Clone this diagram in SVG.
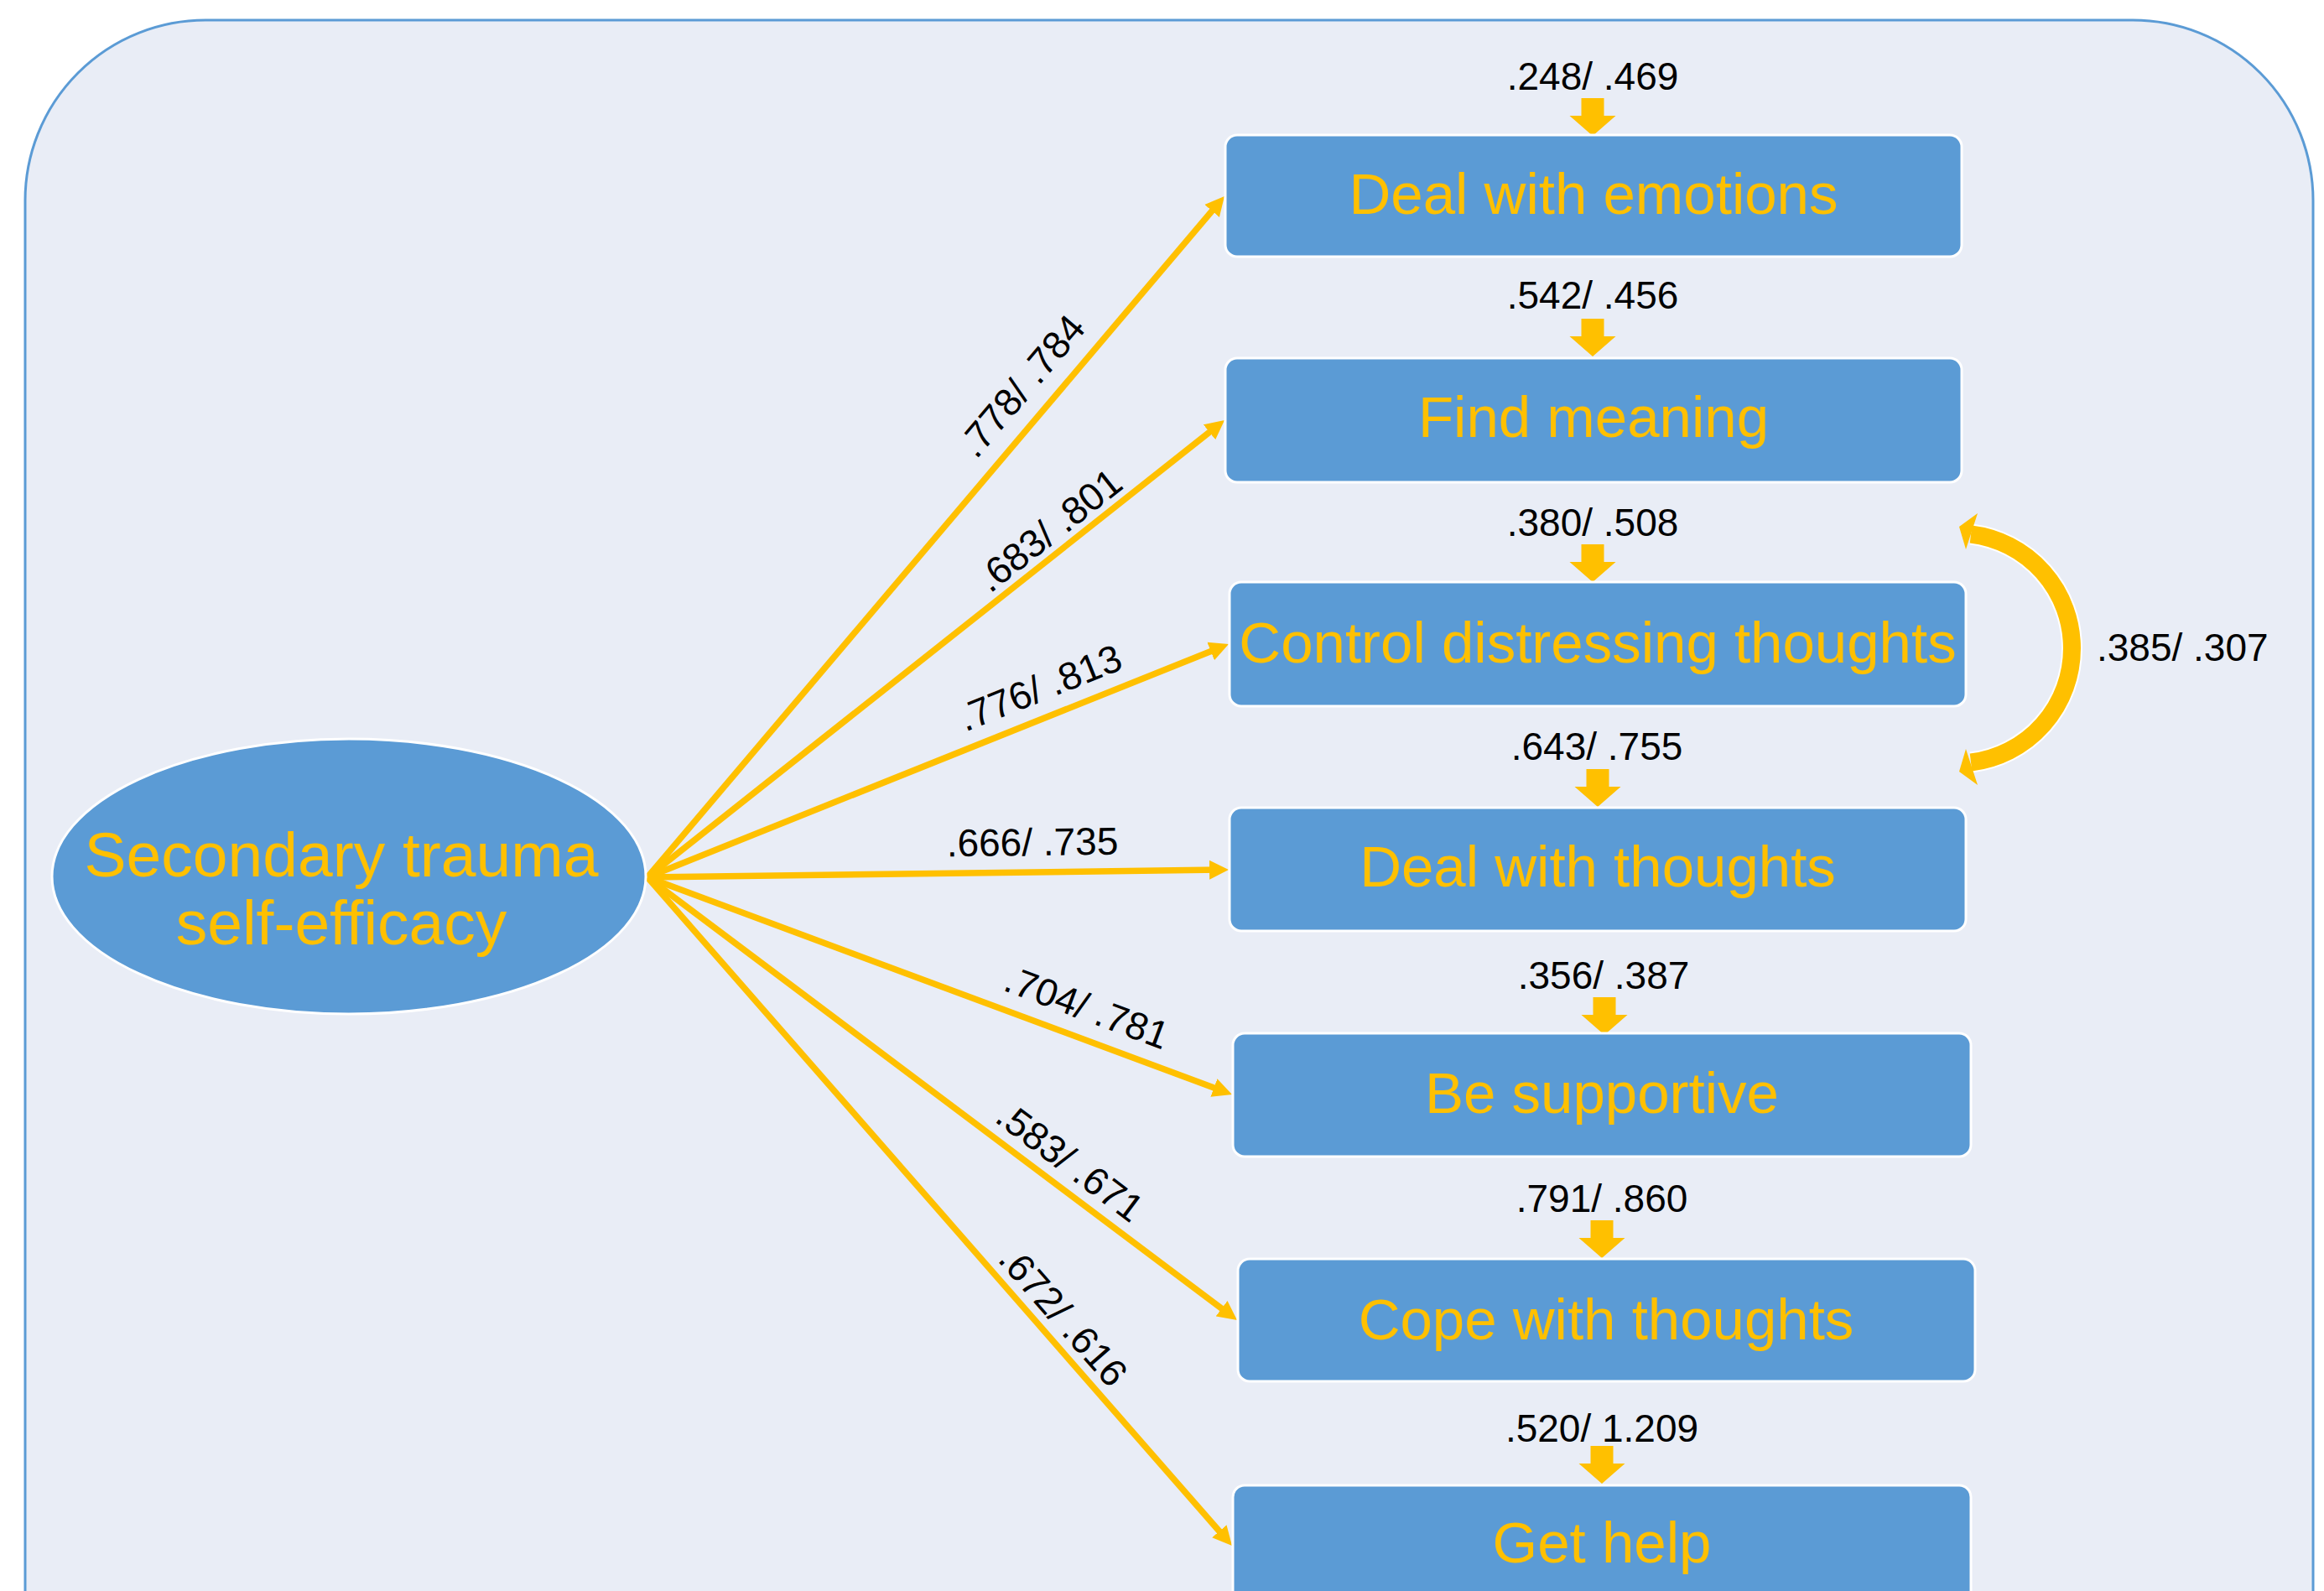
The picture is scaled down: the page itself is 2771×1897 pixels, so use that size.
<svg xmlns="http://www.w3.org/2000/svg" xmlns:xlink="http://www.w3.org/1999/xlink" width="2771" height="1897" viewBox="0 0 2771 1897">
<style>
.box{fill:#5B9BD5;stroke:#FFFFFF;stroke-width:3}
.nt{font-family:"Liberation Sans",Arial,sans-serif;font-size:69px;fill:#FFC000;text-anchor:middle}
.lb{font-family:"Liberation Sans",Arial,sans-serif;font-size:46px;fill:#000000;text-anchor:middle}
.fan{stroke:#FFC000;stroke-width:7.5;fill:none;marker-end:url(#ah)}
.dn{fill:#FFC000}
</style>
<defs>
<marker id="ah" markerUnits="userSpaceOnUse" markerWidth="24" markerHeight="24" refX="13" refY="12" orient="auto" viewBox="0 0 24 24">
<path d="M0,0.5 L23,12 L0,23.5 Z" fill="#FFC000"/>
</marker>
<path id="dnarrow" d="M-13.5,-45 H13.5 V-24 H27.5 L0,0 L-27.5,-24 H-13.5 Z"/>
</defs>
<rect x="0" y="0" width="2771" height="1897" fill="#FFFFFF"/>
<rect id="frame" x="30" y="24" width="2728" height="2100" rx="215" ry="215" fill="#E9EDF6" stroke="#5B9BD5" stroke-width="3"/>

<g id="connectors">
<line class="fan" x1="772" y1="1046" x2="1453.5" y2="241.6"/>
<line class="fan" x1="772" y1="1046" x2="1452.2" y2="507.2"/>
<line class="fan" x1="772" y1="1046" x2="1455.7" y2="771.7"/>
<line class="fan" x1="772" y1="1046" x2="1455" y2="1037.1"/>
<line class="fan" x1="772" y1="1046" x2="1459.6" y2="1301.5"/>
<line class="fan" x1="772" y1="1046" x2="1467" y2="1568"/>
<line class="fan" x1="772" y1="1046" x2="1462.4" y2="1835.5"/>
<g class="dn">
<use xlink:href="#dnarrow" href="#dnarrow" transform="translate(1899,162)"/>
<use xlink:href="#dnarrow" href="#dnarrow" transform="translate(1899,425)"/>
<use xlink:href="#dnarrow" href="#dnarrow" transform="translate(1899,694)"/>
<use xlink:href="#dnarrow" href="#dnarrow" transform="translate(1905,962)"/>
<use xlink:href="#dnarrow" href="#dnarrow" transform="translate(1913,1234)"/>
<use xlink:href="#dnarrow" href="#dnarrow" transform="translate(1910,1500)"/>
<use xlink:href="#dnarrow" href="#dnarrow" transform="translate(1910,1769)"/>
</g>
<g id="covariance">
<path d="M2350,637 A137,137 0 0 1 2350,909" fill="none" stroke="#FFFFFF" stroke-width="25"/>
<path d="M2350,637 A137,137 0 0 1 2350,909" fill="none" stroke="#FFC000" stroke-width="21"/>
<polygon points="2336,628 2358,612 2344,655" fill="#FFC000"/>
<polygon points="2336,920 2358,936 2344,893" fill="#FFC000"/>
</g>
</g>

<g id="edge-labels">
<text class="lb" transform="translate(1218,460) rotate(-49.7)" x="0" y="16">.778/ .784</text>
<text class="lb" transform="translate(1251,632) rotate(-38.3)" x="0" y="16">.683/ .801</text>
<text class="lb" transform="translate(1240,820) rotate(-21.8)" x="0" y="16">.776/ .813</text>
<text class="lb" transform="translate(1231,1004) rotate(-0.7)" x="0" y="16">.666/ .735</text>
<text class="lb" transform="translate(1296,1201) rotate(20.4)" x="0" y="16">.704/ .781</text>
<text class="lb" transform="translate(1276,1385) rotate(36.9)" x="0" y="16">.583/ .671</text>
<text class="lb" transform="translate(1268,1569) rotate(48.8)" x="0" y="16">.672/ .616</text>
<text class="lb" x="1899" y="107">.248/ .469</text>
<text class="lb" x="1899" y="368">.542/ .456</text>
<text class="lb" x="1899" y="639">.380/ .508</text>
<text class="lb" x="1904" y="906">.643/ .755</text>
<text class="lb" x="1912" y="1179">.356/ .387</text>
<text class="lb" x="1910" y="1445">.791/ .860</text>
<text class="lb" x="1910" y="1719">.520/ 1.209</text>
<text class="lb" x="2500" y="788" style="text-anchor:start">.385/ .307</text>
</g>

<g id="node-latent">
<ellipse cx="416" cy="1045" rx="354" ry="164" fill="#5B9BD5" stroke="#FFFFFF" stroke-width="3"/>
<text class="nt" style="font-size:75px" x="407" y="1045">Secondary trauma</text>
<text class="nt" style="font-size:75px" x="407" y="1126">self-efficacy</text>
</g>
<g id="node-emotions">
<rect class="box" x="1461" y="161" width="878" height="145" rx="14"/>
<text class="nt" x="1900" y="255">Deal with emotions</text>
</g>
<g id="node-meaning">
<rect class="box" x="1461" y="427" width="878" height="148" rx="14"/>
<text class="nt" x="1900" y="521">Find meaning</text>
</g>
<g id="node-control">
<rect class="box" x="1466" y="694" width="878" height="148" rx="14"/>
<text class="nt" x="1905" y="790">Control distressing thoughts</text>
</g>
<g id="node-dealthoughts">
<rect class="box" x="1466" y="963" width="878" height="147" rx="14"/>
<text class="nt" x="1905" y="1057">Deal with thoughts</text>
</g>
<g id="node-supportive">
<rect class="box" x="1470" y="1232" width="880" height="147" rx="14"/>
<text class="nt" x="1910" y="1327">Be supportive</text>
</g>
<g id="node-cope">
<rect class="box" x="1476" y="1501" width="879" height="146" rx="14"/>
<text class="nt" x="1915" y="1597">Cope with thoughts</text>
</g>
<g id="node-help">
<rect class="box" x="1470" y="1771" width="880" height="147" rx="14"/>
<text class="nt" x="1910" y="1863">Get help</text>
</g>
</svg>
